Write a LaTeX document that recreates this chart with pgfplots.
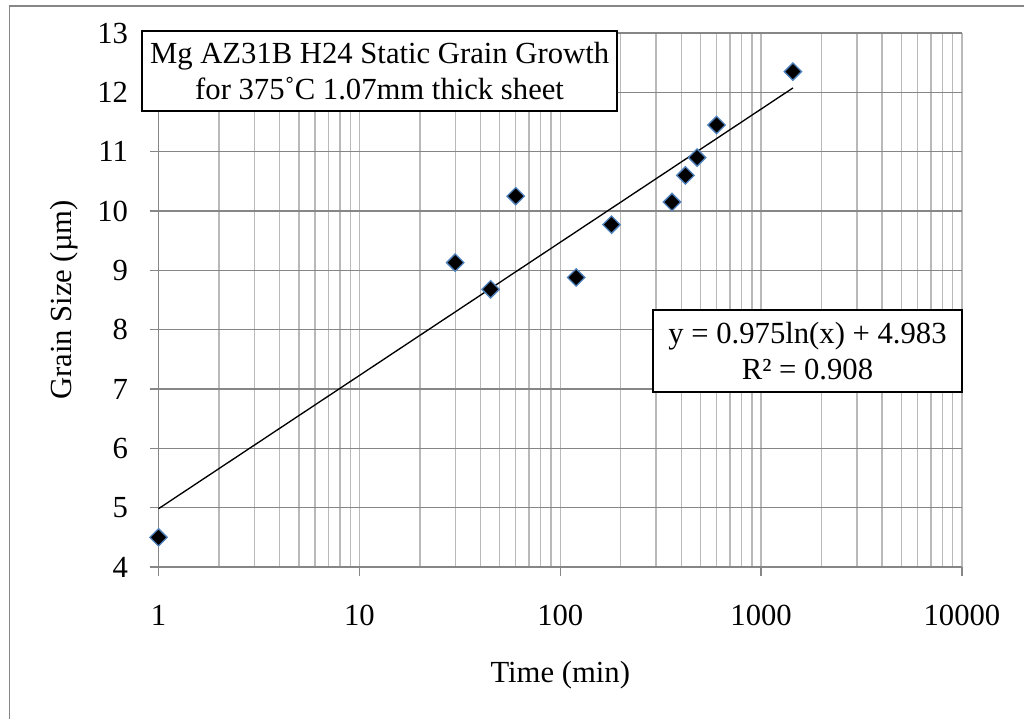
\documentclass[border=0pt]{standalone}
\usepackage{fontspec}
\setmainfont{Liberation Serif}
\usepackage{pgfplots}
\pgfplotsset{compat=1.18}

\definecolor{darkgrid}{HTML}{868686}
\definecolor{lightgrid}{HTML}{B9B9B9}
\definecolor{markerblue}{HTML}{4F81BD}

\begin{document}
\begin{tikzpicture}
\begin{axis}[
  at={(0,0)}, anchor=south west,
  scale only axis,
  width=602.6pt, height=400.5pt,
  xmode=log, log basis x=10,
  xmin=1, xmax=10000, ymin=4, ymax=13,
  xtick={1,10,100,1000,10000},
  xticklabels={1,10,100,1000,10000},
  ytick={4,5,6,7,8,9,10,11,12,13},
  minor xtick={2,3,4,5,6,7,8,9,20,30,40,50,60,70,80,90,200,300,400,500,600,700,800,900,2000,3000,4000,5000,6000,7000,8000,9000},
  /pgf/number format/assume math mode=true,
  font=\fontsize{23}{27}\selectfont,
  axis x line*=bottom, axis y line*=left,
  axis line style={darkgrid, line width=1pt, -},
  tick align=outside,
  major tick length=6.75pt, minor tick length=0pt,
  tick style={darkgrid, line width=1pt},
  grid=both,
  major x grid style={lightgrid, line width=1pt},
  minor x grid style={lightgrid, line width=1pt},
  major y grid style={darkgrid, line width=1pt},
  xticklabel style={anchor=base, inner sep=0pt, yshift=-36.75pt},
  yticklabel style={anchor=east, inner sep=0pt, xshift=-16pt},
  xlabel={Time (min)},
  ylabel={Grain Size (µm)},
  xlabel style={at={(axis description cs:0.5,-0.2154)}, anchor=base},
  ylabel style={at={(axis description cs:-0.1177,0.5)}, anchor=center},
  clip=false,
]
% logarithmic trendline: straight on the log x axis, drawn from its end points
\addplot[black, line width=1pt] coordinates {(1,4.983) (1440,12.074)};
\addplot[only marks, mark=square*, mark size=4.6pt,
  mark options={rotate=45, fill=black, draw=markerblue, line width=1pt}]
  coordinates {
  (1,4.5) (30,9.13) (45,8.68) (60,10.25) (120,8.88) (180,9.77)
  (360,10.15) (420,10.6) (480,10.9) (600,11.45) (1440,12.35)
  };
\end{axis}
\node[draw=black, line width=1.5pt, fill=white, align=center, anchor=north west,
  inner xsep=6pt, minimum height=60pt, font=\fontsize{23}{27}\selectfont]
  at (-13.1pt,402.75pt) {Mg AZ31B H24 Static Grain Growth\\for 375˚C 1.07mm thick sheet};
\node[draw=black, line width=1.5pt, fill=white, align=center,
  minimum width=231.75pt, minimum height=61.5pt, font=\fontsize{23}{27}\selectfont]
  at (486.75pt,162pt) {y = 0.975ln(x) + 4.983\\R² = 0.908};
\draw[darkgrid, line width=0.8pt] (-112.1pt,-114pt) -- (-112.1pt,420.75pt) -- (649.1pt,420.75pt);
\pgfresetboundingbox
\path[use as bounding box] (-118.9pt,-114pt) rectangle (649.1pt,425.25pt);
\end{tikzpicture}
\end{document}
